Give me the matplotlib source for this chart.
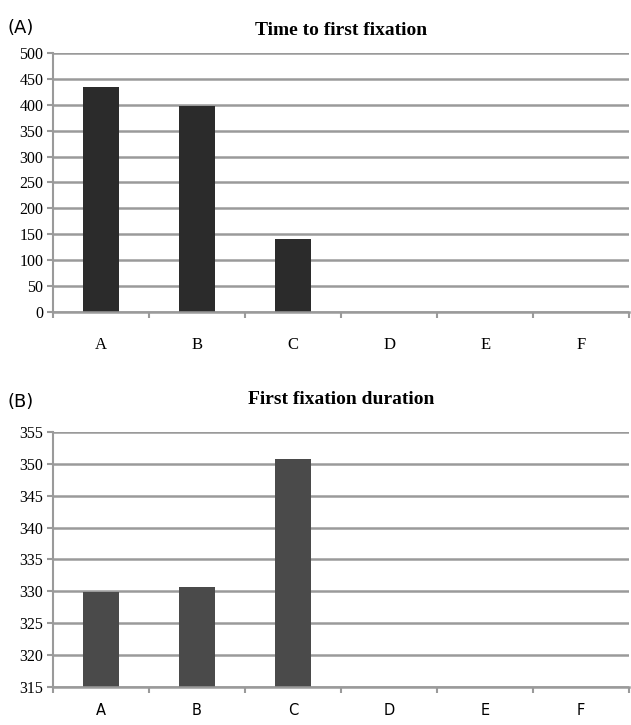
import matplotlib.pyplot as plt
import numpy as np

categories = ["A", "B", "C", "D", "E", "F"]
time_to_first = [435, 397, 140, 0, 0, 0]
first_duration = [329.8, 330.6, 350.8, 0, 0, 0]

fig = plt.figure(figsize=(6.31, 7.25), dpi=100)
ax1 = fig.add_axes([0.084, 0.5697, 0.913, 0.3572])
ax2 = fig.add_axes([0.084, 0.053, 0.913, 0.351])

x = np.arange(len(categories))
grid_col = "#9a9a9a"


def style(ax, ymin, ymax, step, xfont, xpad):
    ax.set_xlim(-0.5, len(categories) - 0.5)
    ax.set_ylim(ymin, ymax)
    ax.set_yticks(np.arange(ymin, ymax + step / 2, step))
    ax.yaxis.grid(True, color=grid_col, linewidth=1.8)
    ax.set_axisbelow(True)
    for s in ["top", "right"]:
        ax.spines[s].set_visible(False)
    ax.spines["left"].set_color(grid_col)
    ax.spines["bottom"].set_color(grid_col)
    ax.spines["left"].set_linewidth(1.5)
    ax.spines["bottom"].set_linewidth(1.8)
    ax.set_xticks(x)
    ax.set_xticklabels(categories, **xfont)
    ax.set_xticks(np.arange(-0.5, len(categories)), minor=True)
    ax.tick_params(axis="x", which="major", length=0, pad=xpad)
    ax.tick_params(axis="x", which="minor", length=4, color=grid_col, width=1.5)
    ax.tick_params(axis="y", length=4, color=grid_col, width=1.5, pad=3)
    for lab in ax.get_yticklabels():
        lab.set_family("Liberation Serif")
        lab.set_fontsize(11.5)


# panel A
ax1.bar(x, time_to_first, width=0.38, color="#2b2b2b")
style(ax1, 0, 500, 50, {"family": "Liberation Serif", "fontsize": 12}, 18)
ax1.set_title("Time to first fixation", fontsize=14, fontweight="bold",
              family="Liberation Serif", pad=13)
fig.text(0.012, 0.961, "(A)", fontsize=13, va="center")

# panel B
ax2.bar(x, first_duration, width=0.38, color="#4a4a4a")
style(ax2, 315, 355, 5, {"family": "DejaVu Sans", "fontsize": 10.5}, 12)
ax2.set_title("First fixation duration", fontsize=14, fontweight="bold",
              family="Liberation Serif", pad=20)
fig.text(0.012, 0.4455, "(B)", fontsize=13, va="center")

plt.savefig("out.png", dpi=100)
